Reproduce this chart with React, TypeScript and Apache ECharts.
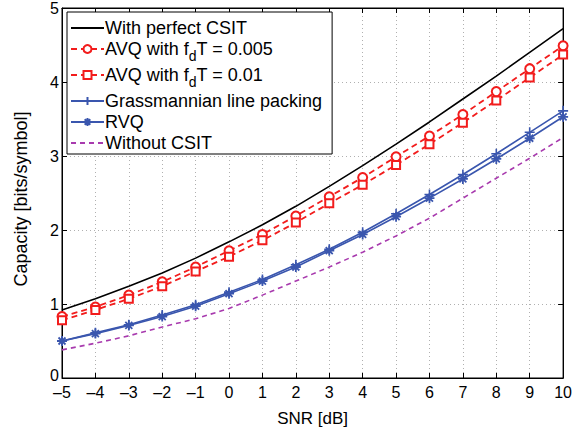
import React, { useEffect, useRef } from "react";
import * as echarts from "echarts";

const snr = [-5, -4, -3, -2, -1, 0, 1, 2, 3, 4, 5, 6, 7, 8, 9, 10];
const perfectCSIT = [0.92, 1.07, 1.24, 1.42, 1.62, 1.84, 2.07, 2.32, 2.59, 2.87, 3.16, 3.46, 3.77, 4.08, 4.40, 4.72];
const avq005 = [0.83, 0.96, 1.12, 1.30, 1.50, 1.72, 1.94, 2.19, 2.45, 2.71, 2.99, 3.27, 3.56, 3.87, 4.18, 4.49];
const avq01 = [0.78, 0.92, 1.07, 1.24, 1.44, 1.64, 1.86, 2.10, 2.36, 2.61, 2.88, 3.16, 3.45, 3.75, 4.06, 4.37];
const grassmann = [0.50, 0.61, 0.72, 0.85, 0.99, 1.16, 1.33, 1.53, 1.74, 1.97, 2.22, 2.48, 2.75, 3.03, 3.32, 3.61];
const rvq = [0.50, 0.60, 0.71, 0.83, 0.97, 1.14, 1.31, 1.50, 1.72, 1.94, 2.18, 2.43, 2.69, 2.96, 3.24, 3.53];
const withoutCSIT = [0.38, 0.47, 0.57, 0.69, 0.80, 0.94, 1.12, 1.31, 1.50, 1.70, 1.92, 2.16, 2.43, 2.70, 2.97, 3.25];

const seriesNames = [
  "With perfect CSIT",
  "AVQ with f{sub|d}T = 0.005",
  "AVQ with f{sub|d}T = 0.01",
  "Grassmannian line packing",
  "RVQ",
  "Without CSIT",
];

const FONT = "'Liberation Sans', Arial, Helvetica, sans-serif";
const RED = "#f21c1c";
const BLUE = "#3a56ae";
const PURPLE = "#a83aae";

const plusPath = "path://M0,-5L0,5M-5,0L5,0";
const starPath = "path://M0,-5L0,5M-5,0L5,0M-3.5,-3.5L3.5,3.5M-3.5,3.5L3.5,-3.5";

const pair = (ys: number[]) => snr.map((x, i) => [x, ys[i]]);

export default function App() {
  const ref = useRef<HTMLDivElement>(null);
  useEffect(() => {
    if (!ref.current) return;
    const chart = echarts.init(ref.current, undefined, { renderer: "svg" });
    const axisLabel = { color: "#000", fontSize: 16, fontFamily: FONT, lineHeight: 12 };
    chart.setOption({
      animation: false,
      backgroundColor: "#fff",
      grid: { left: 62, right: 9, top: 8, bottom: 46, show: true, borderColor: "#000", borderWidth: 1 },
      legend: {
        orient: "vertical",
        left: 67,
        top: 12,
        itemWidth: 33,
        itemHeight: 10,
        itemGap: 3,
        padding: [7, 10, 2, 3],
        backgroundColor: "#fff",
        borderColor: "#000",
        borderWidth: 1,
        textStyle: {
          color: "#000",
          fontSize: 18,
          fontFamily: FONT,
          padding: [0, 0, 0, -4],
          rich: {
            sub: { fontSize: 14, fontFamily: FONT, color: "#000", padding: [14, 0, 0, 0] },
          },
        },
        data: [
          { name: seriesNames[0], itemStyle: { opacity: 0 } },
          { name: seriesNames[1] },
          { name: seriesNames[2] },
          { name: seriesNames[3] },
          { name: seriesNames[4] },
          { name: seriesNames[5], itemStyle: { opacity: 0 } },
        ],
      },
      xAxis: [
        {
          type: "value",
          min: -5,
          max: 10,
          interval: 1,
          name: "SNR [dB]",
          nameLocation: "middle",
          nameGap: 32,
          nameTextStyle: { color: "#000", fontSize: 17, fontFamily: FONT },
          axisLine: { show: true, onZero: false, lineStyle: { color: "#000", width: 1 } },
          axisTick: { inside: true, length: 5, lineStyle: { color: "#000" } },
          axisLabel: { ...axisLabel, margin: 8, formatter: (v: number) => (v < 0 ? "\u2013" + Math.abs(v) : String(v)) },
          splitLine: { show: true, lineStyle: { color: "#b0b0b0", type: [1, 3], width: 1 } },
        },
        {
          type: "value",
          min: -5,
          max: 10,
          interval: 1,
          position: "top",
          axisLine: { show: true, onZero: false, lineStyle: { color: "#000" } },
          axisTick: { inside: true, length: 5, lineStyle: { color: "#000" } },
          axisLabel: { show: false },
          splitLine: { show: false },
        },
      ],
      yAxis: [
        {
          type: "value",
          min: 0,
          max: 5,
          interval: 1,
          name: "Capacity [bits/symbol]",
          nameLocation: "middle",
          nameGap: 32,
          nameTextStyle: { color: "#000", fontSize: 18, fontFamily: FONT, padding: [0, 12, 0, 0] },
          axisLine: { show: true, onZero: false, lineStyle: { color: "#000", width: 1 } },
          axisTick: { inside: true, length: 5, lineStyle: { color: "#000" } },
          axisLabel: {
            ...axisLabel,
            margin: 3,
            formatter: (v: number) => (v === 0 ? "{z|0}" : String(v)),
            rich: { z: { fontSize: 16, fontFamily: FONT, color: "#000", lineHeight: 12, padding: [0, 0, 6, 0] } },
          },
          splitLine: { show: true, lineStyle: { color: "#b0b0b0", type: [1, 3], width: 1 } },
        },
        {
          type: "value",
          min: 0,
          max: 5,
          interval: 1,
          position: "right",
          axisLine: { show: true, onZero: false, lineStyle: { color: "#000" } },
          axisTick: { inside: true, length: 5, lineStyle: { color: "#000" } },
          axisLabel: { show: false },
          splitLine: { show: false },
        },
      ],
      series: [
        {
          name: seriesNames[0],
          type: "line",
          data: pair(perfectCSIT),
          symbol: "none",
          lineStyle: { color: "#000", width: 1.6 },
          itemStyle: { color: "#000" },
        },
        {
          name: seriesNames[1],
          type: "line",
          data: pair(avq005),
          symbol: "emptyCircle",
          symbolSize: 9,
          lineStyle: { color: RED, width: 1.8, type: [6, 4] },
          itemStyle: { color: RED, borderColor: RED, borderWidth: 1.4 },
        },
        {
          name: seriesNames[2],
          type: "line",
          data: pair(avq01),
          symbol: "emptyRect",
          symbolSize: 8,
          lineStyle: { color: RED, width: 1.8, type: [6, 4] },
          itemStyle: { color: RED, borderColor: RED, borderWidth: 1.4 },
        },
        {
          name: seriesNames[3],
          type: "line",
          data: pair(grassmann),
          symbol: plusPath,
          symbolSize: 10,
          lineStyle: { color: BLUE, width: 1.6 },
          itemStyle: { color: BLUE, borderColor: BLUE, borderWidth: 1.6 },
        },
        {
          name: seriesNames[4],
          type: "line",
          data: pair(rvq),
          symbol: starPath,
          symbolSize: 10,
          lineStyle: { color: BLUE, width: 1.6 },
          itemStyle: { color: BLUE, borderColor: BLUE, borderWidth: 1.8 },
        },
        {
          name: seriesNames[5],
          type: "line",
          data: pair(withoutCSIT),
          symbol: "none",
          lineStyle: { color: PURPLE, width: 1.6, type: [5, 4] },
          itemStyle: { color: PURPLE },
        },
      ],
    });
    return () => chart.dispose();
  }, []);
  return <div ref={ref} style={{ width: 575, height: 432, position: "absolute", left: 0, top: 0 }} />;
}
